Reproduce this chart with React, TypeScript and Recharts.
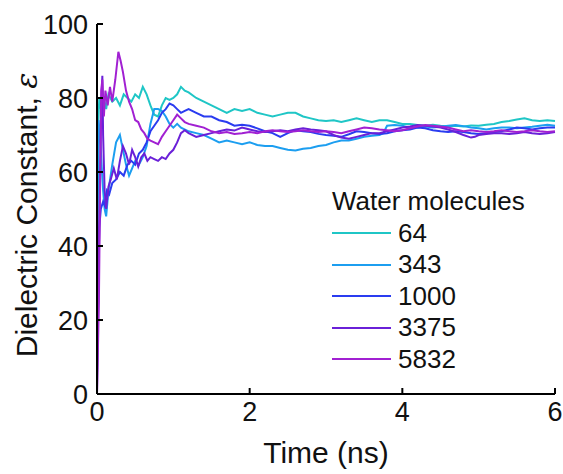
import { LineChart, Line, XAxis, YAxis } from "recharts";

const FONT = '"Liberation Sans", Arial, Helvetica, sans-serif';

const xTicks = [0, 2, 4, 6];
const yTicks = [0, 20, 40, 60, 80, 100];
const sizeLabels = ["64", "343", "1000", "3375", "5832"];
const sizeColors = ["#1fc6c6", "#1c9ef0", "#2a3cf0", "#6a20d8", "#a120d2"];

// 64 water molecules
const t64 = [0, 0.01, 0.03, 0.06, 0.09, 0.12, 0.15, 0.2, 0.25, 0.3, 0.35, 0.4, 0.45, 0.5, 0.55, 0.6, 0.65, 0.7, 0.75, 0.8, 0.85, 0.9, 0.95, 1.0, 1.05, 1.1, 1.15, 1.2, 1.3, 1.4, 1.5, 1.6, 1.7, 1.8, 1.9, 2.0, 2.1, 2.2, 2.3, 2.4, 2.5, 2.6, 2.7, 2.8, 2.9, 3.0, 3.1, 3.2, 3.3, 3.4, 3.5, 3.6, 3.7, 3.8, 3.9, 4.0, 4.1, 4.2, 4.3, 4.4, 4.5, 4.6, 4.7, 4.8, 4.9, 5.0, 5.1, 5.2, 5.3, 5.4, 5.5, 5.6, 5.7, 5.8, 5.9, 6.0];
const eps64 = [40, 70, 80, 76, 80, 77, 81, 79, 80, 78, 81, 80, 79, 81, 80, 83, 81, 78, 75.5, 75, 78, 80, 79.5, 80, 81, 83, 82, 81.5, 80, 79, 78, 77, 76, 77, 76.5, 77, 76, 75.5, 75, 75.5, 76, 76, 75, 74.5, 74, 73.8, 74, 73.5, 74, 74.5, 74, 73.5, 74, 74, 73.5, 73, 73, 72.7, 72.5, 72.8, 72.5, 72.3, 72.5, 72.3, 72.6, 72.5, 72.8, 73, 73.5, 73.8, 74.2, 74.5, 74, 73.8, 74, 73.8];

// 343 water molecules
const t343 = [0, 0.02, 0.04, 0.06, 0.08, 0.1, 0.12, 0.15, 0.2, 0.25, 0.3, 0.33, 0.38, 0.42, 0.46, 0.5, 0.55, 0.6, 0.65, 0.7, 0.75, 0.8, 0.85, 0.9, 0.95, 1.0, 1.05, 1.1, 1.2, 1.3, 1.4, 1.5, 1.6, 1.7, 1.8, 1.9, 2.0, 2.1, 2.2, 2.3, 2.4, 2.5, 2.6, 2.7, 2.8, 2.9, 3.0, 3.1, 3.2, 3.3, 3.4, 3.5, 3.6, 3.7, 3.75, 3.8, 3.9, 4.0, 4.1, 4.2, 4.3, 4.4, 4.5, 4.6, 4.7, 4.8, 4.9, 5.0, 5.1, 5.2, 5.3, 5.4, 5.5, 5.6, 5.7, 5.8, 5.9, 6.0];
const eps343 = [20, 74, 70, 62, 55, 50, 48, 55, 62, 68, 70, 67, 62, 59, 61, 63, 62, 64, 67, 73, 77, 77, 76.5, 75, 73, 72, 73, 72, 71, 70.5, 70, 69, 68, 68.5, 68, 67.5, 68, 67.3, 67, 67, 66.5, 66, 65.8, 66.3, 66.5, 67, 67.3, 68, 68.5, 68.5, 69, 69.5, 69.8, 70, 70.5, 72.5, 72.7, 72.5, 72, 72, 72.3, 72, 72.2, 72.5, 72.7, 72.4, 72, 71.8, 71.5, 71.8, 72, 72, 71.8, 72, 72.2, 72.5, 72.8, 72.5];

// 1000 water molecules
const t1000 = [0, 0.01, 0.03, 0.05, 0.08, 0.1, 0.13, 0.16, 0.2, 0.25, 0.3, 0.35, 0.4, 0.45, 0.5, 0.55, 0.6, 0.65, 0.7, 0.75, 0.8, 0.85, 0.9, 0.95, 1.0, 1.05, 1.1, 1.15, 1.2, 1.3, 1.4, 1.5, 1.6, 1.7, 1.8, 1.9, 2.0, 2.1, 2.2, 2.3, 2.4, 2.5, 2.6, 2.7, 2.8, 2.9, 3.0, 3.1, 3.2, 3.3, 3.4, 3.5, 3.6, 3.7, 3.8, 3.9, 4.0, 4.1, 4.2, 4.3, 4.4, 4.5, 4.6, 4.7, 4.8, 4.9, 5.0, 5.1, 5.2, 5.3, 5.4, 5.5, 5.6, 5.7, 5.8, 5.9, 6.0];
const eps1000 = [5, 25, 45, 50, 52, 51, 55, 54, 57, 58, 60, 59, 62, 63, 62, 65, 66, 68, 71, 72.5, 74, 76, 77, 78.5, 78, 77, 76, 76.5, 77, 76, 75, 75, 74, 73.5, 72.5, 72.8, 72.5, 71.8, 71, 70.5, 69.5, 70.5, 71.3, 71, 70.8, 70.3, 70, 69.8, 69.5, 70.2, 71, 70.8, 70.5, 70.3, 70.5, 71, 71.3, 71.5, 72, 71.8, 71.3, 71, 70.8, 71, 70.8, 70.5, 70.3, 70.5, 70.8, 71, 71.5, 72, 71.8, 71.5, 71.8, 72, 72];

// 3375 water molecules
const t3375 = [0, 0.02, 0.04, 0.06, 0.07, 0.08, 0.1, 0.12, 0.15, 0.18, 0.22, 0.26, 0.3, 0.34, 0.38, 0.42, 0.46, 0.5, 0.54, 0.58, 0.62, 0.66, 0.7, 0.75, 0.8, 0.85, 0.9, 0.95, 1.0, 1.05, 1.1, 1.15, 1.2, 1.3, 1.4, 1.5, 1.6, 1.7, 1.8, 1.9, 2.0, 2.1, 2.2, 2.3, 2.4, 2.5, 2.6, 2.7, 2.8, 2.9, 3.0, 3.1, 3.2, 3.3, 3.4, 3.5, 3.6, 3.7, 3.8, 3.9, 4.0, 4.1, 4.2, 4.3, 4.4, 4.5, 4.6, 4.7, 4.8, 4.9, 4.95, 5.0, 5.1, 5.2, 5.3, 5.4, 5.5, 5.6, 5.7, 5.8, 5.9, 6.0];
const eps3375 = [0, 30, 60, 80, 86, 70, 55, 50, 56, 58, 61, 58, 63, 67, 65, 62, 66, 64, 61.5, 64, 65, 63, 64, 63.5, 63, 64, 63.5, 65, 66, 68, 70.5, 71.3, 70.5, 69.5, 70, 70.5, 71, 71.5, 71.2, 72, 71.5, 71, 70.8, 71, 71.3, 71, 71.5, 71.8, 71.5, 71.3, 71, 70, 69.3, 69, 69.5, 70, 70.5, 70.5, 71, 71.5, 72, 72.3, 72.7, 72.5, 72.3, 72, 71.5, 70.8, 70, 69.3, 69.5, 70, 70.3, 70.5, 70.5, 70.3, 70.5, 70.8, 70.5, 70.3, 70.5, 70.8];

// 5832 water molecules
const t5832 = [0, 0.01, 0.025, 0.04, 0.055, 0.07, 0.09, 0.11, 0.14, 0.17, 0.2, 0.24, 0.28, 0.31, 0.34, 0.38, 0.42, 0.46, 0.5, 0.54, 0.58, 0.62, 0.66, 0.7, 0.75, 0.8, 0.85, 0.9, 0.95, 1.0, 1.05, 1.1, 1.15, 1.2, 1.3, 1.4, 1.5, 1.6, 1.7, 1.8, 1.9, 2.0, 2.1, 2.2, 2.3, 2.4, 2.5, 2.6, 2.7, 2.8, 2.9, 3.0, 3.1, 3.2, 3.3, 3.4, 3.5, 3.6, 3.7, 3.8, 3.9, 4.0, 4.1, 4.2, 4.3, 4.4, 4.5, 4.6, 4.7, 4.8, 4.9, 5.0, 5.1, 5.2, 5.3, 5.4, 5.5, 5.6, 5.7, 5.8, 5.9, 6.0];
const eps5832 = [0, 10, 25, 55, 82, 85, 75, 82, 78, 83, 79, 85, 92.5, 90, 87, 82, 79, 77, 74, 73.5, 71.5, 70.5, 69, 68.5, 68, 67.5, 69.5, 71, 72.5, 74, 75.5, 74.5, 73.5, 73, 72.5, 72, 71, 70.5, 70.8, 70.3, 70.5, 70.8, 70.5, 71, 71.3, 71, 70.8, 71, 71.3, 71, 70.8, 71, 70.8, 70.5, 71, 71.5, 72, 71.8, 71.5, 71.3, 71, 71.3, 71.8, 72.3, 72.7, 72.5, 72.3, 72, 71.5, 71, 71.3, 71, 70.8, 71, 71.3, 71, 70.8, 71, 71.3, 71, 70.8, 71];

const toRows = (t: number[], e: number[]) => t.map((x, i) => ({ t: x, eps: e[i] }));

const series = [
  toRows(t64, eps64),
  toRows(t343, eps343),
  toRows(t1000, eps1000),
  toRows(t3375, eps3375),
  toRows(t5832, eps5832),
];

const tickStyle = { fill: "#111", fontSize: 27, fontFamily: FONT };
const axisLine = { stroke: "#000", strokeWidth: 2 };
const tickLine = { stroke: "#000", strokeWidth: 2 };

const XTitle = () => (
  <text x={326} y={463} textAnchor="middle" fontSize={30} fontFamily={FONT} fill="#111">
    Time (ns)
  </text>
);

const YTitle = () => (
  <text
    x={26}
    y={215}
    transform="rotate(-90 26 215)"
    textAnchor="middle"
    dominantBaseline="central"
    fontSize={30}
    fontFamily={FONT}
    fill="#111"
  >
    Dielectric Constant,{" "}
    <tspan fontFamily='"DejaVu Serif", "Liberation Serif", serif' fontStyle="italic">
      ε
    </tspan>
  </text>
);

function LegendBox() {
  return (
    <div
      style={{
        position: "absolute",
        left: 332,
        top: 186,
        fontFamily: FONT,
        fontSize: 26,
        lineHeight: "31.5px",
        color: "#111",
        whiteSpace: "nowrap",
      }}
    >
      <div>Water molecules</div>
      {sizeLabels.map((s, i) => (
        <div key={s} style={{ display: "flex", alignItems: "center", height: 31.5 }}>
          <svg width={59} height={4} style={{ marginRight: 7 }}>
            <line x1={0} y1={2} x2={59} y2={2} stroke={sizeColors[i]} strokeWidth={2} />
          </svg>
          <span>{s}</span>
        </div>
      ))}
    </div>
  );
}

export default function App() {
  return (
    <div style={{ position: "relative", width: 563, height: 474, background: "#fff" }}>
      <style>{`body{margin:0}`}</style>
      <LineChart width={563} height={474} margin={{ top: 24, right: 8, left: 0, bottom: 0 }}>
        <XAxis
          xAxisId="b"
          type="number"
          dataKey="t"
          domain={[0, 6]}
          ticks={xTicks}
          height={80}
          axisLine={axisLine}
          tickLine={tickLine}
          tickSize={-6}
          tickMargin={14}
          tick={tickStyle}
          label={<XTitle />}
          allowDuplicatedCategory={false}
        />
        <XAxis
          xAxisId="top"
          orientation="top"
          type="number"
          dataKey="t"
          domain={[0, 6]}
          ticks={xTicks}
          height={0}
          axisLine={axisLine}
          tickLine={tickLine}
          tickSize={-6}
          tick={false}
        />
        <YAxis
          yAxisId="l"
          type="number"
          domain={[0, 100]}
          ticks={yTicks}
          width={97}
          axisLine={axisLine}
          tickLine={tickLine}
          tickSize={-6}
          tickMargin={15}
          tick={tickStyle}
          label={<YTitle />}
        />
        <YAxis
          yAxisId="r"
          orientation="right"
          type="number"
          domain={[0, 100]}
          ticks={yTicks}
          width={0}
          axisLine={axisLine}
          tickLine={tickLine}
          tickSize={-6}
          tick={false}
        />
        {series.map((d, i) => (
          <Line
            key={sizeLabels[i]}
            xAxisId="b"
            yAxisId="l"
            data={d}
            dataKey="eps"
            name={sizeLabels[i]}
            type="linear"
            stroke={sizeColors[i]}
            strokeWidth={2}
            dot={false}
            activeDot={false}
            isAnimationActive={false}
          />
        ))}
      </LineChart>
      <LegendBox />
    </div>
  );
}
